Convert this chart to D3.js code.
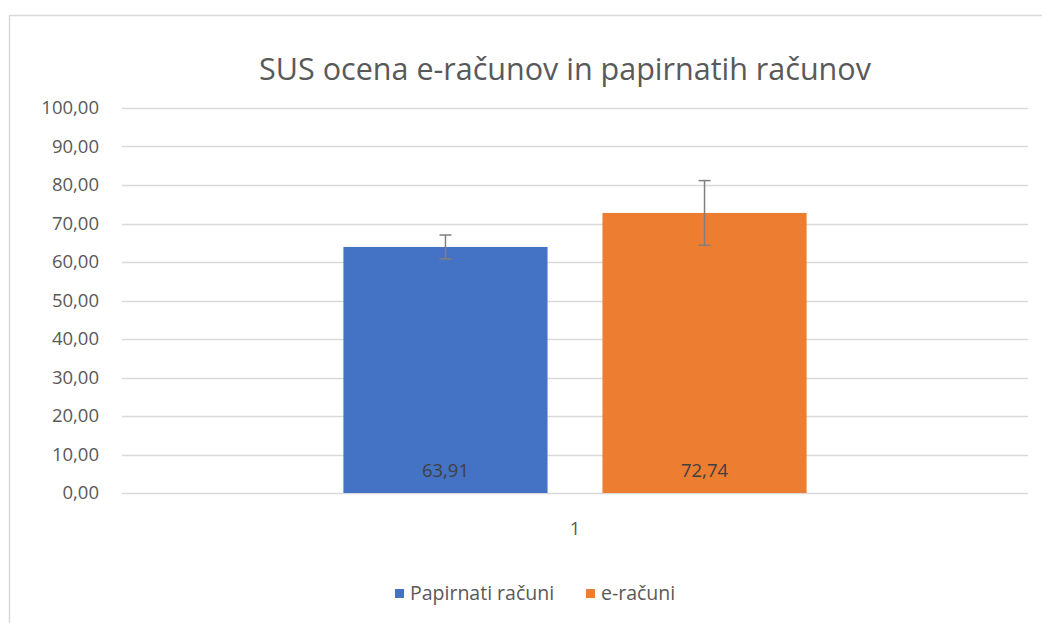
<!DOCTYPE html>
<html>
<head>
<meta charset="utf-8">
<script src="https://cdn.jsdelivr.net/npm/d3@7"></script>
<style>
  body { margin: 0; background: #fff; }
  text { font-family: "Open Sans", "Noto Sans", sans-serif; fill: #595959; }
</style>
</head>
<body>
<div id="chart"></div>
<script>
// data
var categories = ['1'];
var seriesNames = ['Papirnati računi', 'e-računi'];
var seriesValues = [63.91, 72.74];
var errorValues = [3.1, 8.4];
var seriesColors = ['#4472C4', '#ED7D31'];
var yTicks = [0, 10, 20, 30, 40, 50, 60, 70, 80, 90, 100];

var svgWidth = 1042;
var svgHeight = 623;

var margins = { top: 108, right: 14, bottom: 130, left: 122 };
var width = svgWidth - margins.left - margins.right;
var height = svgHeight - margins.top - margins.bottom;

var svg = d3.select('#chart')
    .append('svg')
    .attr('width', svgWidth)
    .attr('height', svgHeight);

// chart area border
svg.append('rect')
    .attr('x', 9.5)
    .attr('y', 15.5)
    .attr('width', 1200)
    .attr('height', 800)
    .attr('fill', 'none')
    .attr('stroke', '#d9d9d9')
    .attr('stroke-width', 1.5);

svg.append('text')
    .attr('x', 565)
    .attr('y', 80)
    .attr('text-anchor', 'middle')
    .attr('font-size', 30.5)
    .text('SUS ocena e-računov in papirnatih računov');

var chartGroup = svg.append('g')
    .attr('transform', `translate(${margins.left},${margins.top})`);

var yScale = d3.scaleLinear()
    .domain([0, 100])
    .range([height, 0]);

var x0 = d3.scaleBand()
    .domain(categories)
    .range([0, width])
    .paddingInner(0)
    .paddingOuter(0.478);

var x1 = d3.scaleBand()
    .domain(seriesNames)
    .range([0, x0.bandwidth()])
    .paddingInner(0.212)
    .paddingOuter(0);

// gridlines
chartGroup.append('g')
    .selectAll('line')
    .data(yTicks)
    .enter()
    .append('line')
    .attr('x1', 0)
    .attr('x2', width)
    .attr('y1', d => Math.round(yScale(d)) + 0.5)
    .attr('y2', d => Math.round(yScale(d)) + 0.5)
    .attr('stroke', '#d9d9d9')
    .attr('stroke-width', 1.3);

// y labels
var leftAxis = d3.axisLeft(yScale)
    .tickValues(yTicks)
    .tickSize(0)
    .tickPadding(23)
    .tickFormat(d => d3.format('.2f')(d).replace('.', ','));

var yAxis = chartGroup.append('g').call(leftAxis);
yAxis.select('.domain').remove();
yAxis.selectAll('text')
    .attr('font-size', 18.5)
    .attr('fill', '#595959')
    .style('font-family', '"Open Sans", sans-serif');

// x labels
var bottomAxis = d3.axisBottom(x0).tickSize(0).tickPadding(29);
var xAxis = chartGroup.append('g')
    .attr('transform', `translate(0, ${height})`)
    .call(bottomAxis);
xAxis.select('.domain').remove();
xAxis.selectAll('text')
    .attr('font-size', 18.5)
    .attr('fill', '#595959')
    .style('font-family', '"Open Sans", sans-serif');

// bars
var groups = chartGroup.selectAll('.cat')
    .data(categories)
    .enter()
    .append('g')
    .attr('transform', d => `translate(${x0(d)},0)`);

var barData = seriesNames.map((s, i) => ({ name: s, value: seriesValues[i], err: errorValues[i], color: seriesColors[i] }));

groups.selectAll('rect')
    .data(barData)
    .enter()
    .append('rect')
    .attr('x', d => x1(d.name))
    .attr('y', d => yScale(d.value))
    .attr('width', x1.bandwidth())
    .attr('height', d => height - yScale(d.value))
    .attr('fill', d => d.color);

// data labels
groups.selectAll('.lbl')
    .data(barData)
    .enter()
    .append('text')
    .attr('x', d => x1(d.name) + x1.bandwidth() / 2)
    .attr('y', height - 16)
    .attr('text-anchor', 'middle')
    .attr('font-size', 18.5)
    .style('fill', '#404040')
    .text(d => d3.format('.2f')(d.value).replace('.', ','));

// error bars
var errG = groups.selectAll('.err')
    .data(barData)
    .enter()
    .append('g')
    .attr('stroke', '#7f7f7f')
    .attr('stroke-width', 1.5);

errG.append('line')
    .attr('x1', d => x1(d.name) + x1.bandwidth() / 2)
    .attr('x2', d => x1(d.name) + x1.bandwidth() / 2)
    .attr('y1', d => yScale(d.value + d.err))
    .attr('y2', d => yScale(d.value - d.err));

[1, -1].forEach(function (sign) {
    errG.append('line')
        .attr('x1', d => x1(d.name) + x1.bandwidth() / 2 - 6)
        .attr('x2', d => x1(d.name) + x1.bandwidth() / 2 + 6)
        .attr('y1', d => yScale(d.value + sign * d.err))
        .attr('y2', d => yScale(d.value + sign * d.err));
});

// legend
var legend = svg.append('g')
    .attr('transform', 'translate(395, 0)');
var legendX = [0, 191];
seriesNames.forEach(function (s, i) {
    legend.append('rect')
        .attr('x', legendX[i])
        .attr('y', 589)
        .attr('width', 9)
        .attr('height', 9)
        .attr('fill', seriesColors[i]);
    legend.append('text')
        .attr('x', legendX[i] + 15)
        .attr('y', 600)
        .attr('font-size', 19.5)
        .text(s);
});
</script>
</body>
</html>
